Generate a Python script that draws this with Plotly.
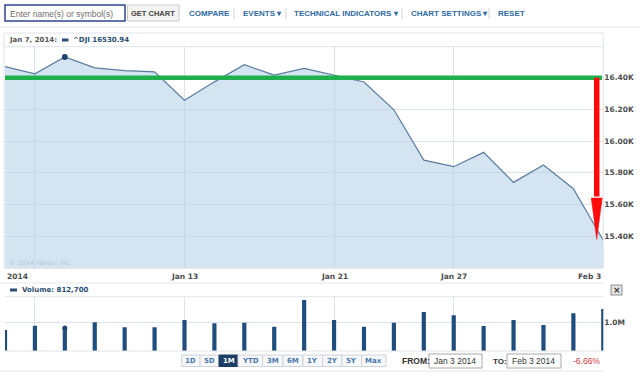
import plotly.graph_objects as go

# ---------------- data ----------------
dates = ["Jan 3", "Jan 6", "Jan 7", "Jan 8", "Jan 9", "Jan 10", "Jan 13", "Jan 14",
         "Jan 15", "Jan 16", "Jan 17", "Jan 21", "Jan 22", "Jan 23", "Jan 24",
         "Jan 27", "Jan 28", "Jan 29", "Jan 30", "Jan 31", "Feb 3"]
close = [16469.99, 16425.10, 16530.94, 16462.74, 16444.76, 16437.05, 16257.94,
         16373.86, 16481.94, 16417.01, 16458.56, 16414.44, 16373.34, 16197.35,
         15879.11, 15837.88, 15928.56, 15738.79, 15848.61, 15698.85, 15372.80]
volume = [742000, 894000, 812700, 1014000, 837000, 837000, 1095000, 979000,
          1000000, 859000, 1802000, 1095000, 859000, 1000000, 1378000, 1261000,
          883000, 1095000, 919000, 1332000, 1484000]
price_ticks = [15400, 15600, 15800, 16000, 16200, 16400]
price_tick_labels = ["15.40K", "15.60K", "15.80K", "16.00K", "16.20K", "16.40K"]
vol_ticks = [1000000]
vol_tick_labels = ["1.0M"]
grid_dates = ["Jan 6", "Jan 13", "Jan 21", "Jan 27", "Feb 3"]
label_dates = ["Jan 3", "Jan 13", "Jan 21", "Jan 27", "Feb 3"]
label_texts = ["2014", "Jan 13", "Jan 21", "Jan 27", "Feb 3"]
hover_date = "Jan 7"
symbol = "^DJI"
range_buttons = ["1D", "5D", "1M", "YTD", "3M", "6M", "1Y", "2Y", "5Y", "Max"]
selected_button = "1M"
from_text = "Jan 3 2014"
to_text = "Feb 3 2014"

# drawn annotation (green level line and red drop arrow), in data units
level_value = 16400
level_end_index = 19.96
arrow_index = 19.78
arrow_head_top = 15640
arrow_tip = 15379

# ---------------- helpers ----------------
W, H = 640, 376
def PX(x):
    return x / W
def PY(y):
    return 1 - y / H

idx = list(range(len(dates)))
pos = {d: i for i, d in enumerate(dates)}
hi = pos[hover_date]

fig = go.Figure()

fig.add_trace(go.Scatter(
    x=idx, y=close, mode="lines", fill="tozeroy",
    line=dict(color="#5b7ca0", width=1.2),
    fillcolor="rgba(178,206,229,0.55)",
    xaxis="x", yaxis="y", hoverinfo="skip", showlegend=False))
fig.add_trace(go.Scatter(
    x=[hi], y=[close[hi]], mode="markers",
    marker=dict(color="#1f4470", size=6),
    xaxis="x", yaxis="y", hoverinfo="skip", showlegend=False))
fig.add_trace(go.Bar(
    x=idx, y=volume, width=0.14, marker=dict(color="#1f4e7e", line=dict(width=0)),
    xaxis="x2", yaxis="y2", hoverinfo="skip", showlegend=False))
fig.add_trace(go.Scatter(
    x=[hi], y=[volume[hi]], mode="markers",
    marker=dict(color="#1f4470", size=5),
    xaxis="x2", yaxis="y2", hoverinfo="skip", showlegend=False))

grid_c = "#dde3ea"
xdom = [PX(5), PX(603.3)]
axis_font = dict(family="DejaVu Sans", size=7.5, color="#4d4d4d", weight="bold")

fig.update_layout(
    width=W, height=H, margin=dict(l=0, r=0, t=0, b=0, autoexpand=False),
    paper_bgcolor="white", plot_bgcolor="white", showlegend=False,
    xaxis=dict(domain=xdom, range=[0, len(dates) - 1], anchor="y", automargin=False,
               tickvals=[pos[d] for d in grid_dates], showticklabels=False,
               showgrid=True, gridcolor=grid_c, gridwidth=1, zeroline=False,
               showline=False, ticks=""),
    yaxis=dict(domain=[PY(268.3), PY(46.7)], range=[15196, 16596], side="right",
               anchor="x", automargin=False, tickvals=price_ticks, ticktext=price_tick_labels,
               tickfont=axis_font, showgrid=True, gridcolor=grid_c, zeroline=False,
               ticks="", showline=False),
    xaxis2=dict(domain=xdom, range=[0, len(dates) - 1], anchor="y2", matches="x",
                automargin=False,
                tickvals=[pos[d] for d in grid_dates[:-1]], showticklabels=False,
                showgrid=True, gridcolor=grid_c, zeroline=False, ticks=""),
    yaxis2=dict(domain=[PY(351), PY(296.7)], range=[0, 1.92e6], side="right",
                anchor="x2", automargin=False, tickvals=vol_ticks, ticktext=vol_tick_labels,
                tickfont=axis_font, showgrid=True, gridcolor=grid_c,
                zeroline=False, ticks="", showline=False),
)

shapes = []
ann = []
def line(x0, y0, x1, y1, color, width=1):
    shapes.append(dict(type="line", xref="paper", yref="paper",
                       x0=PX(x0), y0=PY(y0), x1=PX(x1), y1=PY(y1),
                       line=dict(color=color, width=width)))
def rect(x0, y0, x1, y1, fill, border, bw=1):
    shapes.append(dict(type="rect", xref="paper", yref="paper",
                       x0=PX(x0), y0=PY(y0), x1=PX(x1), y1=PY(y1),
                       fillcolor=fill, line=dict(color=border, width=bw), layer="above"))
def text(x, y, s, size=8, color="#333", family="Liberation Sans", bold=False, anchor="left"):
    ann.append(dict(xref="paper", yref="paper", x=PX(x), y=PY(y), text=s,
                    showarrow=False, xanchor=anchor, yanchor="middle",
                    font=dict(family=family, size=size, color=color,
                              weight="bold" if bold else "normal")))

# ----- toolbar -----
line(0, 27, 640, 27, "#e8e8e8")
rect(5, 5, 125, 21, "white", "#2f4590", 1.5)
text(8, 13.5, "Enter name(s) or symbol(s)", size=8.5, color="#707070")
rect(127.5, 5, 179, 21, "#f4f4f4", "#c9c9c9", 1)
text(153, 13.5, "GET CHART", size=7.5, color="#454545", bold=True, anchor="center")
menu = [(186.5, "COMPARE"), (241, "EVENTS ▾"), (292, "TECHNICAL INDICATORS ▾"),
        (408.5, "CHART SETTINGS ▾"), (496, "RESET")]
for x, s in menu:
    text(x, 13.5, s, size=8, color="#2f6aa0", bold=True)
for x in [234, 286, 402, 489]:
    line(x, 8, x, 19, "#d5d5d5")

# ----- main panel chrome -----
rect(4, 33, 603.3, 268.3, "rgba(0,0,0,0)", "#dfe3e8", 1)
line(4, 46.7, 603.3, 46.7, "#dfe3e8")
text(7, 40, f"{hover_date}, 2014:", size=7, color="#555", family="DejaVu Sans", bold=True)
shapes.append(dict(type="rect", xref="paper", yref="paper", x0=PX(62), y0=PY(41.5),
                   x1=PX(68.5), y1=PY(38.5), fillcolor="#2b4d78", line=dict(width=0)))
text(71, 40, f"{symbol} {close[hi]:.2f}", size=7, color="#2b4d73", family="DejaVu Sans", bold=True)
text(7, 263, "© 2014 Yahoo! Inc.", size=6.5, color="#b7c8d8", family="DejaVu Sans")

# x labels
for d, s in zip(label_dates, label_texts):
    i = pos[d]
    a = "left" if i == 0 else ("right" if i == len(dates) - 1 else "center")
    ann.append(dict(xref="x", yref="paper", x=i, y=PY(276.5), text=s, showarrow=False,
                    xanchor=a, yanchor="middle",
                    font=dict(family="DejaVu Sans", size=7.5, color="#4d4d4d", weight="bold")))

# ----- volume panel chrome -----
line(0, 283, 603.3, 283, "#e3e6ea")
line(5, 296.7, 603.3, 296.7, "#e3e6ea")
line(5, 351, 603.3, 351, "#dfe3e8")
shapes.append(dict(type="rect", xref="paper", yref="paper", x0=PX(10), y0=PY(291.5),
                   x1=PX(17), y1=PY(288.5), fillcolor="#2b4d78", line=dict(width=0)))
text(20, 290, f"Volume: {volume[hi]:,}", size=7, color="#2b4d73", family="DejaVu Sans", bold=True)
rect(611, 285, 622, 295, "#e4e4e4", "#8f8f8f", 1)
text(616.5, 289.8, "×", size=9, color="#333", family="DejaVu Sans", bold=True, anchor="center")

# ----- bottom controls -----
edges = [181.7, 200, 219, 238, 262.7, 283, 303, 322.7, 342, 361.7, 386]
for k, b in enumerate(range_buttons):
    sel = b == selected_button
    rect(edges[k], 355, edges[k + 1], 366.5, "#1c3d66" if sel else "#f5f7f9",
         "#1c3d66" if sel else "#cfd5dc", 1)
    text((edges[k] + edges[k + 1]) / 2, 360.8, b, size=7, family="DejaVu Sans", bold=True,
         color="white" if sel else "#4a78ae", anchor="center")
text(400, 361, "FROM:", size=8.5, color="#333", bold=True)
rect(429, 354, 482, 368, "white", "#a9a9a9", 1)
text(432, 361, from_text, size=8.5, color="#333")
text(491, 361, "TO:", size=8, color="#333", bold=True)
rect(507, 354, 561, 368, "white", "#a9a9a9", 1)
text(510, 361, to_text, size=8.5, color="#333")
chg = (close[-1] - close[0]) / close[0] * 100
text(571, 361, f"{chg:.2f}%", size=8.5, color="#d03a3a")
line(0, 371, 603.3, 371, "#e6e6e6")

# ----- green level line and red arrow (data coordinates) -----
shapes.append(dict(type="line", xref="x", yref="y", x0=0, x1=level_end_index,
                   y0=level_value, y1=level_value, line=dict(color="#1fb04c", width=4.5)))
shapes.append(dict(type="line", xref="x", yref="y", x0=arrow_index, x1=arrow_index,
                   y0=level_value, y1=arrow_head_top + 10, line=dict(color="#ff0a0a", width=5.5)))
hw = 0.184
shapes.append(dict(type="path", xref="x", yref="y",
                   path=f"M {arrow_index - hw},{arrow_head_top} L {arrow_index + hw},{arrow_head_top} "
                        f"L {arrow_index},{arrow_tip} Z",
                   fillcolor="#ff0a0a", line=dict(color="#ff0a0a", width=0.5)))

fig.update_layout(shapes=shapes, annotations=ann)
fig.write_html("out.html", config={"displayModeBar": False},
               post_script="document.body.style.margin='0';document.body.style.padding='0';"
                           "document.body.style.overflow='hidden';")
